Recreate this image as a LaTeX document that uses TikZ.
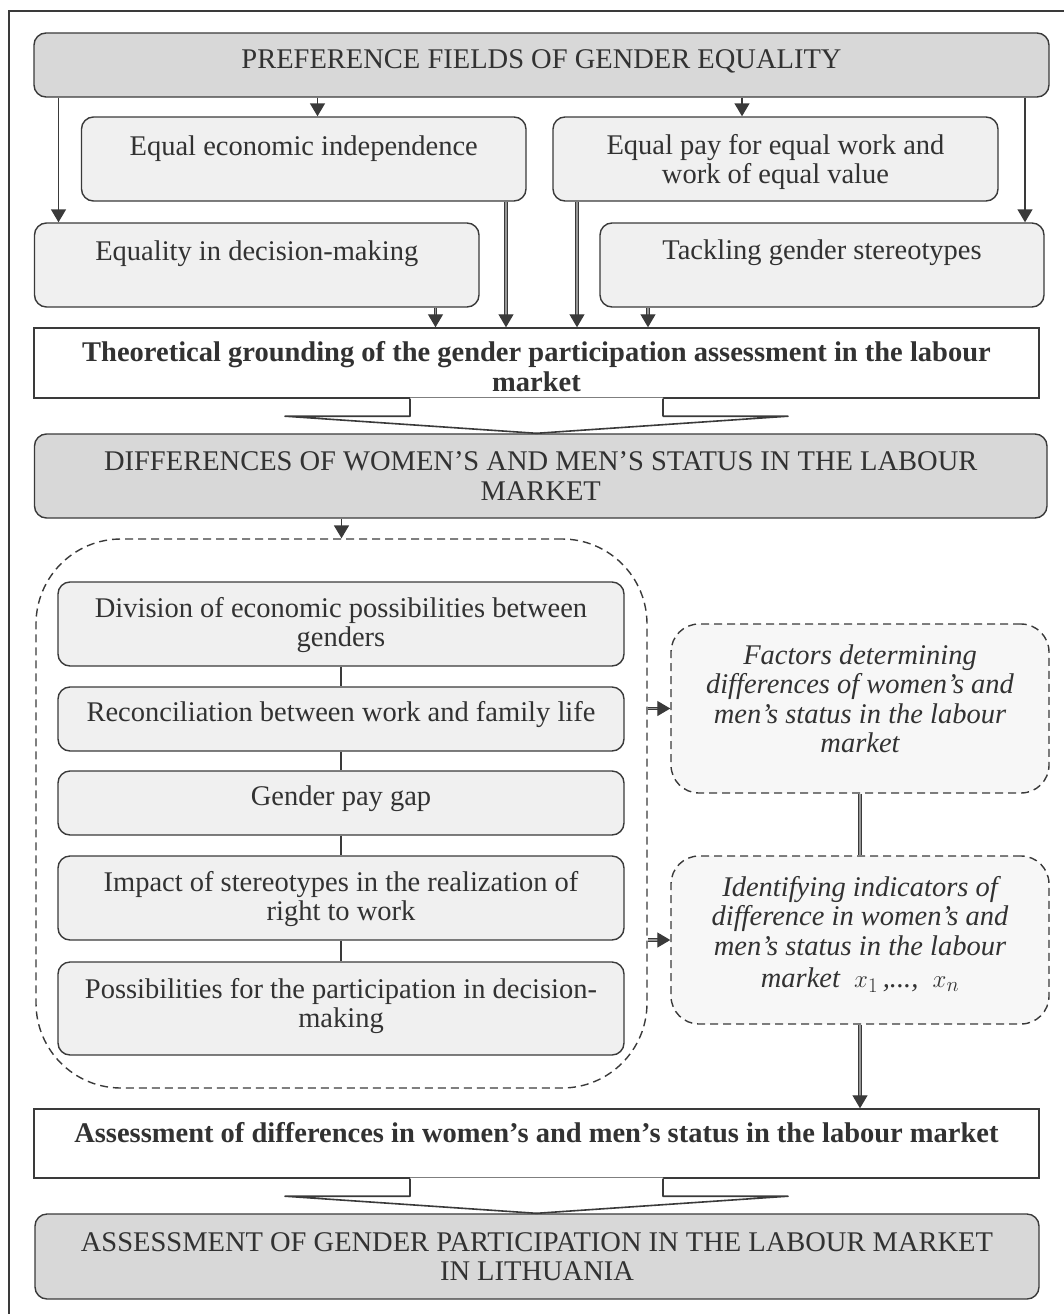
\documentclass[tikz,border=0pt]{standalone}
\usepackage{fontspec}
\setmainfont{Liberation Serif}
\usetikzlibrary{arrows.meta,calc}
\definecolor{ink}{RGB}{50,50,50}
\definecolor{edge}{RGB}{58,58,58}
\definecolor{headfill}{RGB}{216,216,216}
\definecolor{itemfill}{RGB}{240,240,240}
\definecolor{notefill}{RGB}{247,247,247}
\definecolor{dblcore}{RGB}{150,150,150}

% open block arrow joining two stacked boxes
\newcommand\hollowarrow[2]{%
  \path[fill=white]
    ($(#1.south)+(-126.5,-1.2)$) -- ($(#1.south)+(-126.5,17.5)$) --
    ($(#1.south)+(-251.5,17.5)$) -- (#1.south |- #2.north) --
    ($(#1.south)+(251.5,17.5)$) -- ($(#1.south)+(126.5,17.5)$) --
    ($(#1.south)+(126.5,-1.2)$) -- cycle;
  \draw[blockline]
    ($(#1.south)+(-126.5,0)$) -- ($(#1.south)+(-126.5,17.5)$) --
    ($(#1.south)+(-251.5,17.5)$) -- (#1.south |- #2.north) --
    ($(#1.south)+(251.5,17.5)$) -- ($(#1.south)+(126.5,17.5)$) --
    ($(#1.south)+(126.5,0)$);%
}

\begin{document}
\begin{tikzpicture}[x=1pt,y=-1pt,
  base/.style={draw=edge, line width=1.4pt, inner sep=0pt},
  headbox/.style={base, fill=headfill, rounded corners=12pt},
  itembox/.style={base, fill=itemfill, rounded corners=12pt},
  plainbox/.style={base, fill=white},
  notebox/.style={base, fill=notefill, rounded corners=28pt, dash pattern=on 8pt off 5pt},
  groupbox/.style={base, rounded corners=85pt, dash pattern=on 8pt off 5pt},
  lbl/.style={anchor=base, inner sep=0pt, align=center, text=ink,
    font=\fontsize{28.5pt}{29.5pt}\selectfont},
  blbl/.style={lbl, font=\fontsize{28.5pt}{29.5pt}\selectfont\bfseries},
  ilbl/.style={lbl, font=\fontsize{28.5pt}{29.5pt}\selectfont\itshape},
  tip/.style={-{Triangle[width=15pt,length=13pt]}},
  arr/.style={draw=edge, line width=1.4pt, tip},
  dbl/.style={draw=edge, line width=1.2pt, double=dblcore, double distance=1.4pt},
  link/.style={draw=edge, line width=1.4pt},
  blockline/.style={draw=edge, line width=1.6pt, line join=round},
]
\useasboundingbox (0,0) rectangle (1064,1314);

% outer frame (top and left edges)
\draw[edge, line width=2pt] (8.6,1314) -- (8.6,10.7) -- (1064,10.7);

% ---- preference fields ----
\node[headbox, minimum width=1015pt, minimum height=64pt] (top) at (541.5,65) {};
\node[itembox, minimum width=444.5pt, minimum height=84pt] (econ) at (303.75,159) {};
\node[itembox, minimum width=445pt, minimum height=84pt] (pay) at (775.5,159) {};
\node[itembox, minimum width=444.5pt, minimum height=84pt] (dec) at (256.75,265) {};
\node[itembox, minimum width=444pt, minimum height=84pt] (tack) at (822,265) {};
\node[plainbox, minimum width=1005pt, minimum height=70pt] (theo) at (536.5,363) {};
\node[headbox, minimum width=1012.5pt, minimum height=84pt] (diff) at (540.75,476) {};

% labels sit on the baseline of their last line
\node[lbl] (top-t) at (541.5,68) {PREFERENCE FIELDS OF GENDER EQUALITY};
\node[lbl] (econ-t) at (303.75,155) {Equal economic independence};
\node[lbl] (pay-t) at (775.5,183.5) {Equal pay for equal work and\\work of equal value};
\node[lbl] (dec-t) at (256.75,260) {Equality in decision-making};
\node[lbl] (tack-t) at (822,259) {Tackling gender stereotypes};
\node[blbl] (theo-t) at (536.5,391) {Theoretical grounding of the gender participation assessment in the labour\\market};
\node[lbl] (diff-t) at (540.75,500) {DIFFERENCES OF WOMEN’S AND MEN’S STATUS IN THE LABOUR\\MARKET};

% arrows from the heading box
\coordinate (ax1) at (58.5,0);
\coordinate (ax2) at (317.5,0);
\coordinate (ax3) at (742,0);
\coordinate (ax4) at (1025,0);
\draw[arr] (ax1 |- top.south) -- (ax1 |- dec.north);
\draw[arr] (ax2 |- top.south) -- (ax2 |- econ.north);
\draw[arr] (ax3 |- top.south) -- (ax3 |- pay.north);
\draw[arr] (ax4 |- top.south) -- (ax4 |- tack.north);

% arrows into the theoretical grounding box
\coordinate (bx1) at (435.5,0);
\coordinate (bx2) at (506,0);
\coordinate (bx3) at (577,0);
\coordinate (bx4) at (648,0);
\draw[dbl, tip] (bx1 |- dec.south) -- (bx1 |- theo.north);
\draw[dbl, tip] (bx2 |- econ.south) -- (bx2 |- theo.north);
\draw[dbl, tip] (bx3 |- pay.south) -- (bx3 |- theo.north);
\draw[dbl, tip] (bx4 |- tack.south) -- (bx4 |- theo.north);

\hollowarrow{theo}{diff}

% ---- status differences ----
\node[groupbox, minimum width=611pt, minimum height=549pt] (big) at (341.5,813.5) {};
\node[itembox, minimum width=566pt, minimum height=84pt] (b1) at (341,624) {};
\node[itembox, minimum width=566pt, minimum height=64pt] (b2) at (341,719) {};
\node[itembox, minimum width=566pt, minimum height=64pt] (b3) at (341,803) {};
\node[itembox, minimum width=566pt, minimum height=84pt] (b4) at (341,898) {};
\node[itembox, minimum width=566pt, minimum height=93pt] (b5) at (341,1008.5) {};

\node[lbl] (b1-t) at (341,646.5) {Division of economic possibilities between\\genders};
\node[lbl] (b2-t) at (341,721) {Reconciliation between work and family life};
\node[lbl] (b3-t) at (341,805) {Gender pay gap};
\node[lbl] (b4-t) at (341,920.5) {Impact of stereotypes in the realization of\\right to work};
\node[lbl] (b5-t) at (341,1027.5) {Possibilities for the participation in decision-\\making};

\draw[link] (b1.south) -- (b2.north);
\draw[link] (b2.south) -- (b3.north);
\draw[link] (b3.south) -- (b4.north);
\draw[link] (b4.south) -- (b5.north);

\draw[draw=edge, line width=1.8pt, tip] (big.north |- diff.south) -- (big.north);

\node[notebox, minimum width=378pt, minimum height=169pt] (fac) at (860,708.5) {};
\node[notebox, minimum width=378pt, minimum height=168pt] (ind) at (860,940) {};

\node[ilbl] (fac-t) at (860,752.5) {Factors determining\\differences of women’s and\\men’s status in the labour\\market};
\node[ilbl] (ind-t) at (860,987.5) {Identifying indicators of\\difference in women’s and\\men’s status in the labour\\[3pt]market\ \ $x_{1}$\,,...,\ \ $x_{n}$};

\draw[dbl, tip] (fac.west -| big.east) -- (fac.west);
\draw[dbl, tip] (ind.west -| big.east) -- (ind.west);
\draw[dbl] (fac.south) -- (ind.north);

% ---- assessment ----
\node[plainbox, minimum width=1005pt, minimum height=69pt] (assess) at (536.5,1143.5) {};
\node[headbox, minimum width=1004pt, minimum height=85pt] (final) at (537,1256.5) {};

\node[blbl] (assess-t) at (536.5,1142) {Assessment of differences in women’s and men’s status in the labour market};
\node[lbl] (final-t) at (537,1280.5) {ASSESSMENT OF GENDER PARTICIPATION IN THE LABOUR MARKET\\IN LITHUANIA};

\draw[dbl, tip] (ind.south) -- (ind.south |- assess.north);

\hollowarrow{assess}{final}
\end{tikzpicture}
\end{document}
